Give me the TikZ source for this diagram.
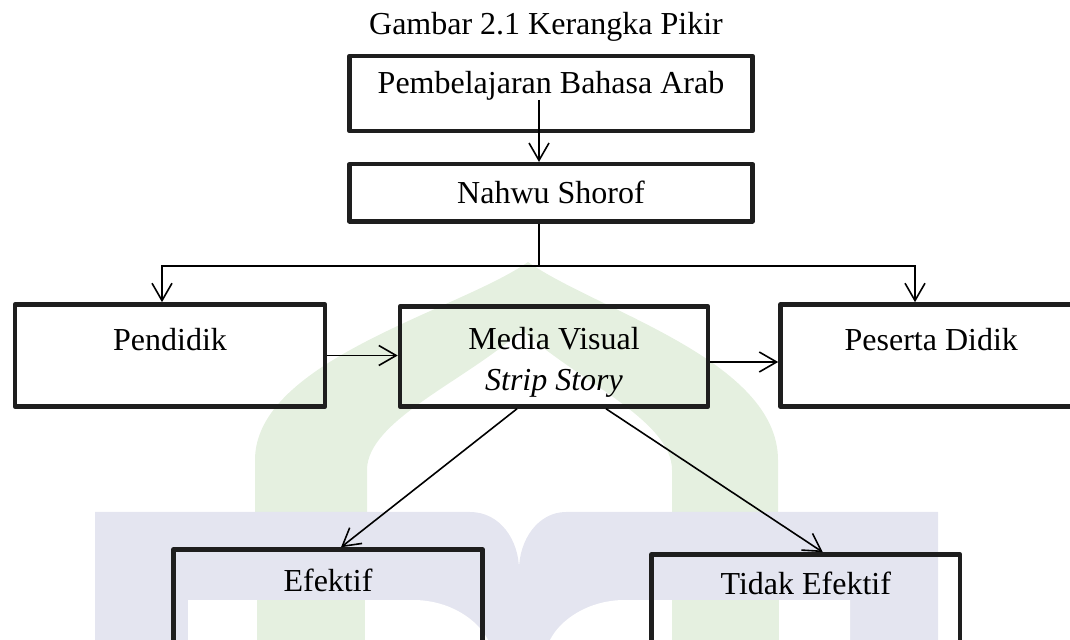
\documentclass[tikz,border=0pt]{standalone}
\usepackage{fontspec}
\setmainfont{Liberation Serif}
\usetikzlibrary{arrows.meta,calc}
\definecolor{hijau}{RGB}{229,240,224}
\definecolor{lembayung}{RGB}{228,229,240}
\definecolor{tinta}{RGB}{30,30,30}
\begin{document}
\begin{tikzpicture}[x=0.375pt, y=-0.375pt,
    font=\fontsize{12}{14.5}\selectfont,
    kotak/.style={draw=tinta, line width=1.7pt, line join=round, inner sep=0pt},
    panah/.style={-{Straight Barb[length=6.5pt,width=7.5pt]}, line width=0.6pt},
    garis/.style={line width=0.6pt}]
    \useasboundingbox (0,0) rectangle (1070,640);
    \clip (0,0) rectangle (1070,640);

    % Latar (logo samar)
    \fill[hijau] (255,512) -- (255,460) .. controls (255,360) and (460,310) .. (528,262)
        .. controls (596,310) and (778,360) .. (778,460) -- (778,512) -- (672,512) -- (672,470)
        .. controls (672,420) and (576,380) .. (522,330) .. controls (468,380) and (367,420) .. (367,470)
        -- (367,512) -- cycle;
    \fill[lembayung] (95,640) -- (95,512) -- (470,512) .. controls (500,512) and (519,540) .. (519,570)
        .. controls (519,540) and (538,512) .. (566,512) -- (938,512) -- (938,640) -- cycle;
    \fill[white] (188,600) -- (413,600) .. controls (450,600) and (478,620) .. (488,640) -- (188,640) -- cycle;
    \fill[white] (850,600) -- (625,600) .. controls (588,600) and (560,620) .. (550,640) -- (850,640) -- cycle;
    \fill[hijau] (257,600) rectangle (365,640);
    \fill[hijau] (672,600) rectangle (779,640);

    % Kotak
    \node[anchor=base] (T) at (546,35) {Gambar 2.1 Kerangka Pikir};
    \node[kotak, minimum width=151.1pt, minimum height=28.1pt, text height=8.2pt, text depth=8.2pt] (BA) at (551,93.5) {Pembelajaran Bahasa Arab};
    \node[kotak, minimum width=151.1pt, minimum height=21.4pt, text height=8.2pt, text depth=0pt] (NS) at (551,192.75) {Nahwu Shorof};
    \node[kotak, minimum width=116.3pt, minimum height=38.3pt, text height=8.2pt, text depth=12.3pt] (PD) at (170,355.5) {Pendidik};
    \node[kotak, minimum width=115.5pt, minimum height=37.5pt, align=center] (MV) at (554,356.5) {\rule{0pt}{12.4pt}Media Visual\\[0.9pt]\textit{Strip Story}};
    \node[kotak, minimum width=113.1pt, minimum height=38.3pt, text height=8.2pt, text depth=12.3pt] (PS) at (931.25,355.5) {Peserta Didik};
    \node[kotak, minimum width=115.9pt, minimum height=48.9pt, text height=8.2pt, text depth=26pt] (EF) at (328,614.75) {Efektif};
    \node[kotak, minimum width=115.7pt, minimum height=47.1pt, text height=8.2pt, text depth=24.9pt] (TE) at (805.75,617.25) {Tidak Efektif};

    % Panah
    \coordinate (s1) at (539,100);
    \coordinate (cab) at (539,266);
    \coordinate (kiri) at (162,266);
    \coordinate (kanan) at (915,266);
    \draw[panah] (s1) -- (s1 |- NS.north);
    \draw[garis] (cab |- NS.south) -- (cab);
    \draw[panah] (cab) -| (kiri |- PD.north);
    \draw[panah] (cab) -| (kanan |- PS.north);
    \draw[panah] (PD.east) -- (PD.east -| MV.west);
    \draw[panah] ($(MV.east)+(0,5.5)$) -- ($(MV.east -| PS.west)+(0,5.5)$);
    \draw[panah] ($(MV.south)+(-37,0)$) -- ($(EF.north)+(13,0)$);
    \draw[panah] ($(MV.south)+(52,0)$) -- ($(TE.north)+(17,0)$);
\end{tikzpicture}
\end{document}
